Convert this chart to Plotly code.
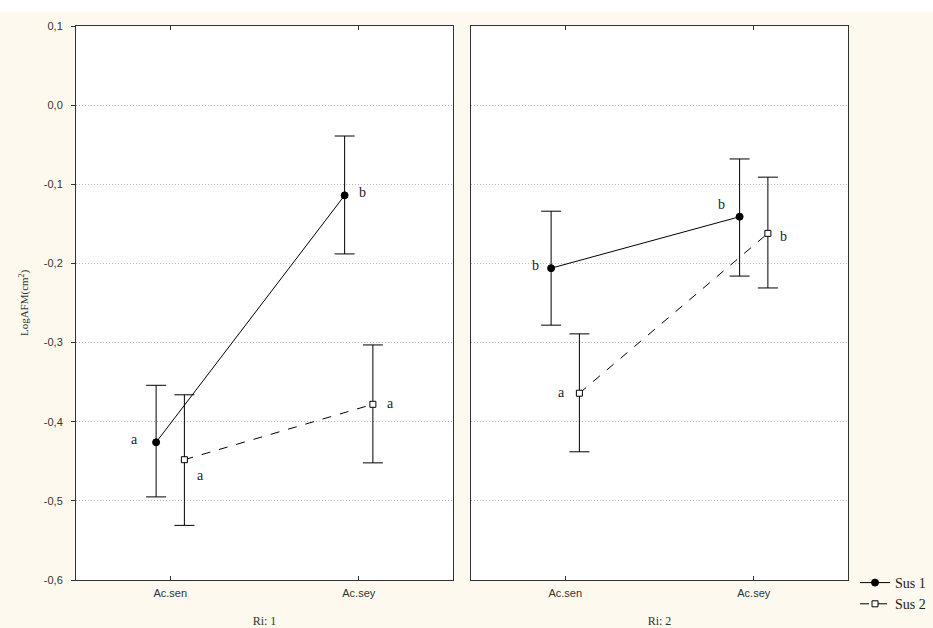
import plotly.graph_objects as go

categories = ["Ac.sen", "Ac.sey"]
series = ["Sus 1", "Sus 2"]

# Panel Ri: 1
ri1_sus1_mean = [-0.426, -0.114]
ri1_sus1_upper = [-0.354, -0.039]
ri1_sus1_lower = [-0.495, -0.188]
ri1_sus2_mean = [-0.448, -0.378]
ri1_sus2_upper = [-0.366, -0.303]
ri1_sus2_lower = [-0.531, -0.452]
ri1_sus1_letters = ["a", "b"]
ri1_sus2_letters = ["a", "a"]

# Panel Ri: 2
ri2_sus1_mean = [-0.206, -0.141]
ri2_sus1_upper = [-0.134, -0.068]
ri2_sus1_lower = [-0.278, -0.216]
ri2_sus2_mean = [-0.364, -0.162]
ri2_sus2_upper = [-0.289, -0.091]
ri2_sus2_lower = [-0.438, -0.231]
ri2_sus1_letters = ["b", "b"]
ri2_sus2_letters = ["a", "b"]

panel_titles = ["Ri: 1", "Ri: 2"]
y_ticks = [0.1, 0.0, -0.1, -0.2, -0.3, -0.4, -0.5, -0.6]
y_tick_labels = ["0,1", "0,0", "-0,1", "-0,2", "-0,3", "-0,4", "-0,5", "-0,6"]

W, H = 933, 628
OFF = 0.075
CREAM = "#fdf9ee"

fig = go.Figure()

panels = [
    (ri1_sus1_mean, ri1_sus1_upper, ri1_sus1_lower, ri1_sus2_mean, ri1_sus2_upper, ri1_sus2_lower,
     ri1_sus1_letters, ri1_sus2_letters),
    (ri2_sus1_mean, ri2_sus1_upper, ri2_sus1_lower, ri2_sus2_mean, ri2_sus2_upper, ri2_sus2_lower,
     ri2_sus1_letters, ri2_sus2_letters),
]

# letter label placement (offsets in px): per panel, per series, per category
letter_shifts = [
    [[(-22, 3), (18, 3)], [(16, -16), (18, 1)]],
    [[(-16, 3), (-18, 12)], [(-18, 1), (16, -3)]],
]

for p, (m1, u1, l1, m2, u2, l2, let1, let2) in enumerate(panels):
    xa = "x" if p == 0 else "x2"
    ya = "y" if p == 0 else "y2"
    for s, (m, u, l, lets) in enumerate([(m1, u1, l1, let1), (m2, u2, l2, let2)]):
        xs = [i + (-OFF if s == 0 else OFF) for i in range(len(categories))]
        fig.add_trace(go.Scatter(
            x=xs, y=m, xaxis=xa, yaxis=ya,
            mode="lines+markers",
            name=series[s],
            showlegend=(p == 0),
            line=dict(color="black", width=1, dash="solid" if s == 0 else "dash"),
            marker=dict(symbol="circle" if s == 0 else "square",
                        size=7 if s == 0 else 6,
                        color="black" if s == 0 else "white",
                        line=dict(color="black", width=1)),
            error_y=dict(type="data", symmetric=False,
                         array=[uu - mm for uu, mm in zip(u, m)],
                         arrayminus=[mm - ll for mm, ll in zip(m, l)],
                         color="black", thickness=1, width=10),
        ))
        for i, t in enumerate(lets):
            dx, dy = letter_shifts[p][s][i]
            fig.add_annotation(x=xs[i], y=m[i], xref=xa, yref=ya, text=t,
                               showarrow=False, xshift=dx, yshift=dy,
                               font=dict(family="Liberation Serif", size=14, color="#1a1a2e"))

common_x = dict(
    range=[-0.5, 1.5], tickvals=[0, 1], ticktext=categories,
    showline=True, linecolor="#333333", linewidth=1, mirror="ticks",
    ticks="inside", ticklen=4, tickcolor="#333333",
    showgrid=False, zeroline=False, automargin=False,
    tickfont=dict(family="Liberation Sans", size=11, color="#333333"),
    ticklabelstandoff=3,
    title_font=dict(family="Liberation Serif", size=12, color="#333333"),
    title_standoff=18,
)
grid = dict(showgrid=True, gridcolor="#b8b8b8", griddash="1px,2px", gridwidth=1)
fig.update_layout(
    xaxis=dict(domain=[76 / W, 453 / W], title_text=panel_titles[0], **common_x),
    xaxis2=dict(domain=[471 / W, 848 / W], title_text=panel_titles[1], anchor="y2", **common_x),
    yaxis=dict(domain=[48 / H, 602 / H], range=[-0.6, 0.1],
               tickvals=y_ticks, ticktext=y_tick_labels,
               ticks="outside", ticklen=4, tickcolor="#333333",
               showline=True, linecolor="#333333", linewidth=1, mirror=True,
               zeroline=False, automargin=False, ticklabelstandoff=6,
               tickfont=dict(family="Liberation Sans", size=11, color="#333333"),
               title_text="LogAFM(cm<sup>2</sup>)", title_standoff=12,
               title_font=dict(family="Liberation Serif", size=11, color="#333333"),
               **grid),
    yaxis2=dict(domain=[48 / H, 602 / H], range=[-0.6, 0.1], anchor="x2",
                tickvals=y_ticks, showticklabels=False, ticks="",
                showline=True, linecolor="#333333", linewidth=1, mirror=True,
                zeroline=False, automargin=False, **grid),
    width=W, height=H,
    margin=dict(l=0, r=0, t=0, b=0, autoexpand=False),
    paper_bgcolor=CREAM, plot_bgcolor="white",
    showlegend=True,
    legend=dict(x=855 / W, y=1 - 567 / H, xanchor="left", yanchor="top",
                bgcolor="rgba(0,0,0,0)", tracegroupgap=0, itemwidth=30,
                font=dict(family="Liberation Serif", size=14, color="#222222")),
    shapes=[dict(type="rect", xref="paper", yref="paper", x0=0, x1=1,
                 y0=1 - 12 / H, y1=1, fillcolor="white", line=dict(width=0), layer="below")],
)

fig.write_html("out.html", config={"displayModeBar": False},
               post_script="document.body.style.margin='0';document.body.style.overflow='hidden';")
